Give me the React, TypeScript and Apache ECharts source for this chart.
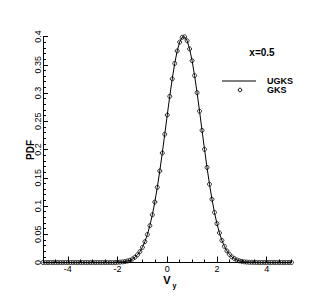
import React, { useEffect, useRef } from "react";
import * as echarts from "echarts";

const vy = [
  -5.0, -4.9, -4.8, -4.7, -4.6, -4.5, -4.4, -4.3, -4.2, -4.1,
  -4.0, -3.9, -3.8, -3.7, -3.6, -3.5, -3.4, -3.3, -3.2, -3.1,
  -3.0, -2.9, -2.8, -2.7, -2.6, -2.5, -2.4, -2.3, -2.2, -2.1,
  -2.0, -1.9, -1.8, -1.7, -1.6, -1.5, -1.4, -1.3, -1.2, -1.1,
  -1.0, -0.9, -0.8, -0.7, -0.6, -0.5, -0.4, -0.3, -0.2, -0.1,
  0.0, 0.1, 0.2, 0.3, 0.4, 0.5, 0.6, 0.7, 0.8, 0.9,
  1.0, 1.1, 1.2, 1.3, 1.4, 1.5, 1.6, 1.7, 1.8, 1.9,
  2.0, 2.1, 2.2, 2.3, 2.4, 2.5, 2.6, 2.7, 2.8, 2.9,
  3.0, 3.1, 3.2, 3.3, 3.4, 3.5, 3.6, 3.7, 3.8, 3.9,
  4.0, 4.1, 4.2, 4.3, 4.4, 4.5, 4.6, 4.7, 4.8, 4.9,
  5.0,
];

const ugksPdf = [
  0, 0, 0, 0, 0, 0, 0, 0, 0, 0,
  0, 0, 0, 0, 0, 0, 0, 0, 0, 0,
  0, 0, 0, 0, 0, 0, 0, 0, 0, 0,
  0.0004, 0.0006, 0.0011, 0.0017, 0.0027, 0.0041, 0.0062, 0.0093, 0.0135, 0.0192,
  0.0268, 0.0368, 0.0495, 0.0652, 0.0844, 0.107, 0.133, 0.1621, 0.1937, 0.227,
  0.261, 0.2941, 0.325, 0.3523, 0.3744, 0.3901, 0.3986, 0.3994, 0.3924, 0.378,
  0.3571, 0.3308, 0.3006, 0.2677, 0.2338, 0.2003, 0.1682, 0.1385, 0.1119, 0.0886,
  0.0688, 0.0524, 0.0391, 0.0286, 0.0206, 0.0145, 0.01, 0.0068, 0.0045, 0.0029,
  0.0019, 0.0012, 0.0007, 0.0004, 0.0003, 0.0002, 0.0001, 0, 0, 0,
  0, 0, 0, 0, 0, 0, 0, 0, 0, 0,
  0,
];

const gksPdf = [
  0, 0, 0, 0, 0, 0, 0, 0, 0, 0,
  0, 0, 0, 0, 0, 0, 0, 0, 0, 0,
  0, 0, 0, 0, 0, 0, 0, 0, 0, 0,
  0.0004, 0.0006, 0.0011, 0.0017, 0.0027, 0.0041, 0.0062, 0.0093, 0.0135, 0.0192,
  0.0268, 0.0368, 0.0495, 0.0652, 0.0844, 0.107, 0.133, 0.1621, 0.1937, 0.227,
  0.261, 0.2941, 0.325, 0.3523, 0.3744, 0.3901, 0.3986, 0.3994, 0.3924, 0.378,
  0.3571, 0.3308, 0.3006, 0.2677, 0.2338, 0.2003, 0.1682, 0.1385, 0.1119, 0.0886,
  0.0688, 0.0524, 0.0391, 0.0286, 0.0206, 0.0145, 0.01, 0.0068, 0.0045, 0.0029,
  0.0019, 0.0012, 0.0007, 0.0004, 0.0003, 0.0002, 0.0001, 0, 0, 0,
  0, 0, 0, 0, 0, 0, 0, 0, 0, 0,
  0,
];

const xMajorTicks = [-4, -2, 0, 2, 4];
const xMinorTicks = [
  -5, -4.5, -4, -3.5, -3, -2.5, -2, -1.5, -1, -0.5, 0, 0.5, 1, 1.5, 2, 2.5, 3, 3.5, 4, 4.5, 5,
];

const FONT = "'Liberation Sans', Arial, sans-serif";

export default function App() {
  const ref = useRef<HTMLDivElement>(null);
  useEffect(() => {
    if (!ref.current) return;
    const chart = echarts.init(ref.current, undefined, { renderer: "svg" });
    const ugks = vy.map((v, i) => [v, ugksPdf[i]]);
    const gks = vy.map((v, i) => [v, gksPdf[i]]);
    chart.setOption({
      animation: false,
      backgroundColor: "#fff",
      textStyle: { fontFamily: FONT },
      grid: { left: 43, right: 40.5, top: 36.5, bottom: 33.5 },
      xAxis: [
        {
          type: "value",
          min: -5,
          max: 5,
          axisLine: { show: true, onZero: false, lineStyle: { color: "#000", width: 1 } },
          axisTick: {
            show: true,
            inside: true,
            length: 6,
            customValues: xMajorTicks,
            lineStyle: { color: "#000", width: 1 },
          },
          axisLabel: {
            show: true,
            customValues: xMajorTicks,
            color: "#000",
            fontSize: 9,
            fontFamily: FONT,
            margin: 2,
          },
          splitLine: { show: false },
        },
        {
          type: "value",
          min: -5,
          max: 5,
          position: "bottom",
          axisLine: { show: false, onZero: false },
          axisTick: {
            show: true,
            inside: true,
            length: 3,
            customValues: xMinorTicks,
            lineStyle: { color: "#000", width: 1 },
          },
          axisLabel: { show: false },
          splitLine: { show: false },
        },
      ],
      yAxis: {
        type: "value",
        min: 0,
        max: 0.4,
        interval: 0.05,
        axisLine: { show: true, onZero: false, lineStyle: { color: "#000", width: 1 } },
        axisTick: { show: true, inside: true, length: 5, lineStyle: { color: "#000", width: 1 } },
        minorTick: { show: true, splitNumber: 5, length: 3, lineStyle: { color: "#000", width: 1 } },
        minorSplitLine: { show: false },
        axisLabel: {
          rotate: 90,
          color: "#000",
          fontSize: 9,
          fontFamily: FONT,
          margin: 1,
        },
        splitLine: { show: false },
      },
      series: [
        {
          name: "UGKS",
          type: "line",
          data: ugks,
          xAxisIndex: 0,
          showSymbol: false,
          symbol: "none",
          lineStyle: { color: "#000", width: 1 },
          z: 2,
        },
        {
          name: "GKS",
          type: "scatter",
          data: gks,
          xAxisIndex: 0,
          symbol: "circle",
          symbolSize: 4,
          itemStyle: { color: "rgba(255,255,255,0)", borderColor: "#000", borderWidth: 1 },
          z: 3,
        },
      ],
      graphic: [
        {
          type: "text",
          x: 262,
          y: 52,
          style: {
            text: "x=0.5",
            font: `bold 10px ${FONT}`,
            fill: "#000",
            align: "center",
            verticalAlign: "middle",
          },
        },
        {
          type: "line",
          shape: { x1: 222, y1: 81, x2: 256, y2: 81 },
          style: { stroke: "#000", lineWidth: 1 },
        },
        {
          type: "text",
          x: 267,
          y: 81,
          style: {
            text: "UGKS",
            font: `bold 9px ${FONT}`,
            fill: "#000",
            align: "left",
            verticalAlign: "middle",
          },
        },
        {
          type: "circle",
          shape: { cx: 240, cy: 90, r: 1.8 },
          style: { fill: "#fff", stroke: "#000", lineWidth: 1 },
        },
        {
          type: "text",
          x: 267,
          y: 90,
          style: {
            text: "GKS",
            font: `bold 9px ${FONT}`,
            fill: "#000",
            align: "left",
            verticalAlign: "middle",
          },
        },
        {
          type: "text",
          x: 30,
          y: 150,
          rotation: Math.PI / 2,
          style: {
            text: "PDF",
            font: `bold 10px ${FONT}`,
            fill: "#000",
            align: "center",
            verticalAlign: "middle",
          },
        },
        {
          type: "text",
          x: 167,
          y: 280,
          style: {
            text: "V",
            font: `bold 11px ${FONT}`,
            fill: "#000",
            align: "center",
            verticalAlign: "middle",
          },
        },
        {
          type: "text",
          x: 172.5,
          y: 285,
          style: {
            text: "y",
            font: `bold 7px ${FONT}`,
            fill: "#000",
            align: "left",
            verticalAlign: "middle",
          },
        },
      ],
    });
    return () => chart.dispose();
  }, []);
  return (
    <div
      ref={ref}
      style={{ position: "fixed", left: 0, top: 0, width: 332, height: 296 }}
    />
  );
}
